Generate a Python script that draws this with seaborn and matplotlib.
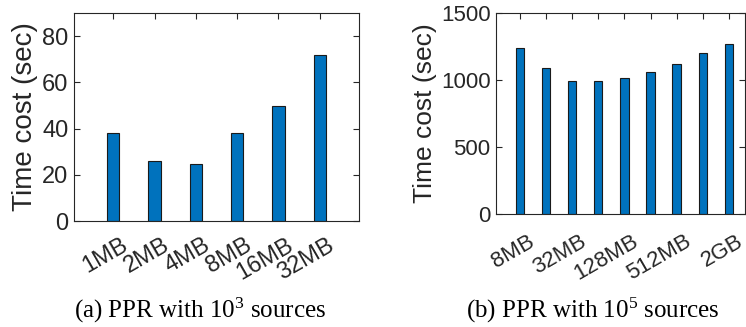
import pandas as pd
import seaborn as sns
import matplotlib.pyplot as plt
from matplotlib.transforms import ScaledTranslation

# ------------------------------------------------------------
# data
# ------------------------------------------------------------
sizes_a = ["1MB", "2MB", "4MB", "8MB", "16MB", "32MB"]
time_a = [38.1, 26.0, 24.6, 38.0, 49.6, 71.9]

sizes_b = ["8MB", "16MB", "32MB", "64MB", "128MB", "256MB", "512MB", "1GB", "2GB"]
time_b = [1236, 1088, 993, 990, 1018, 1061, 1122, 1204, 1271]
labels_b = ["8MB", "", "32MB", "", "128MB", "", "512MB", "", "2GB"]

sns.set_style("ticks")
plt.rcParams["font.family"] = ["Liberation Sans", "DejaVu Sans"]
plt.rcParams["mathtext.fontset"] = "custom"
plt.rcParams["mathtext.rm"] = "Liberation Serif"
plt.rcParams["mathtext.it"] = "Liberation Serif:italic"

bar_color = "#0072BD"
ink = "#262626"

fig = plt.figure(figsize=(7.46, 3.27), dpi=100)
ax_a = fig.add_axes([74 / 746, 1 - 221 / 327, 285 / 746, 208 / 327])
ax_b = fig.add_axes([496 / 746, 1 - 214 / 327, 249 / 746, 201 / 327])

df_a = pd.DataFrame({"size": sizes_a, "time": time_a})
df_b = pd.DataFrame({"size": sizes_b, "time": time_b})

sns.barplot(data=df_a, x="size", y="time", ax=ax_a, color=bar_color,
            saturation=1, width=0.3, edgecolor="#1a1a1a", linewidth=0.8)
sns.barplot(data=df_b, x="size", y="time", ax=ax_b, color=bar_color,
            saturation=1, width=0.32, edgecolor="#1a1a1a", linewidth=0.8)


def style_axes(ax, ylim, yticks, fs_tick, fs_label, xlim, labelpad):
    ax.set_xlim(*xlim)
    ax.set_ylim(*ylim)
    ax.set_yticks(yticks)
    ax.set_xlabel("")
    ax.set_ylabel("Time cost (sec)", fontsize=fs_label, color=ink, labelpad=labelpad)
    for s in ax.spines.values():
        s.set_visible(True)
        s.set_color(ink)
        s.set_linewidth(0.8)
    ax.tick_params(direction="in", top=True, right=True, length=4,
                   width=0.8, colors=ink, labelsize=fs_tick, pad=4)


def rotate_xlabels(ax, labels, pad_pt, dx_px):
    ax.tick_params(axis="x", pad=pad_pt)
    ax.set_xticklabels(labels, rotation=30, ha="right", va="top",
                       rotation_mode="anchor")
    shift = ScaledTranslation(dx_px / 100, 0, fig.dpi_scale_trans)
    for lab in ax.get_xticklabels():
        lab.set_transform(lab.get_transform() + shift)


style_axes(ax_a, (0, 90), [0, 20, 40, 60, 80], 17, 20, (-0.95, 5.95), 3)
ax_a.set_xticks(range(len(sizes_a)))
rotate_xlabels(ax_a, sizes_a, 9.4, 7.6)

style_axes(ax_b, (0, 1500), [0, 500, 1000, 1500], 16, 19, (-0.92, 8.62), 3)
ax_b.set_xticks(range(len(sizes_b)))
rotate_xlabels(ax_b, labels_b, 12.2, 7.6)

fig.text(200 / 746, 1 - 318 / 327, "(a) PPR with 10$^3$ sources",
         family="Liberation Serif", fontsize=18, ha="center", va="baseline", color="black")
fig.text(593 / 746, 1 - 318 / 327, "(b) PPR with 10$^5$ sources",
         family="Liberation Serif", fontsize=18, ha="center", va="baseline", color="black")

fig.savefig("out.png", dpi=100)
